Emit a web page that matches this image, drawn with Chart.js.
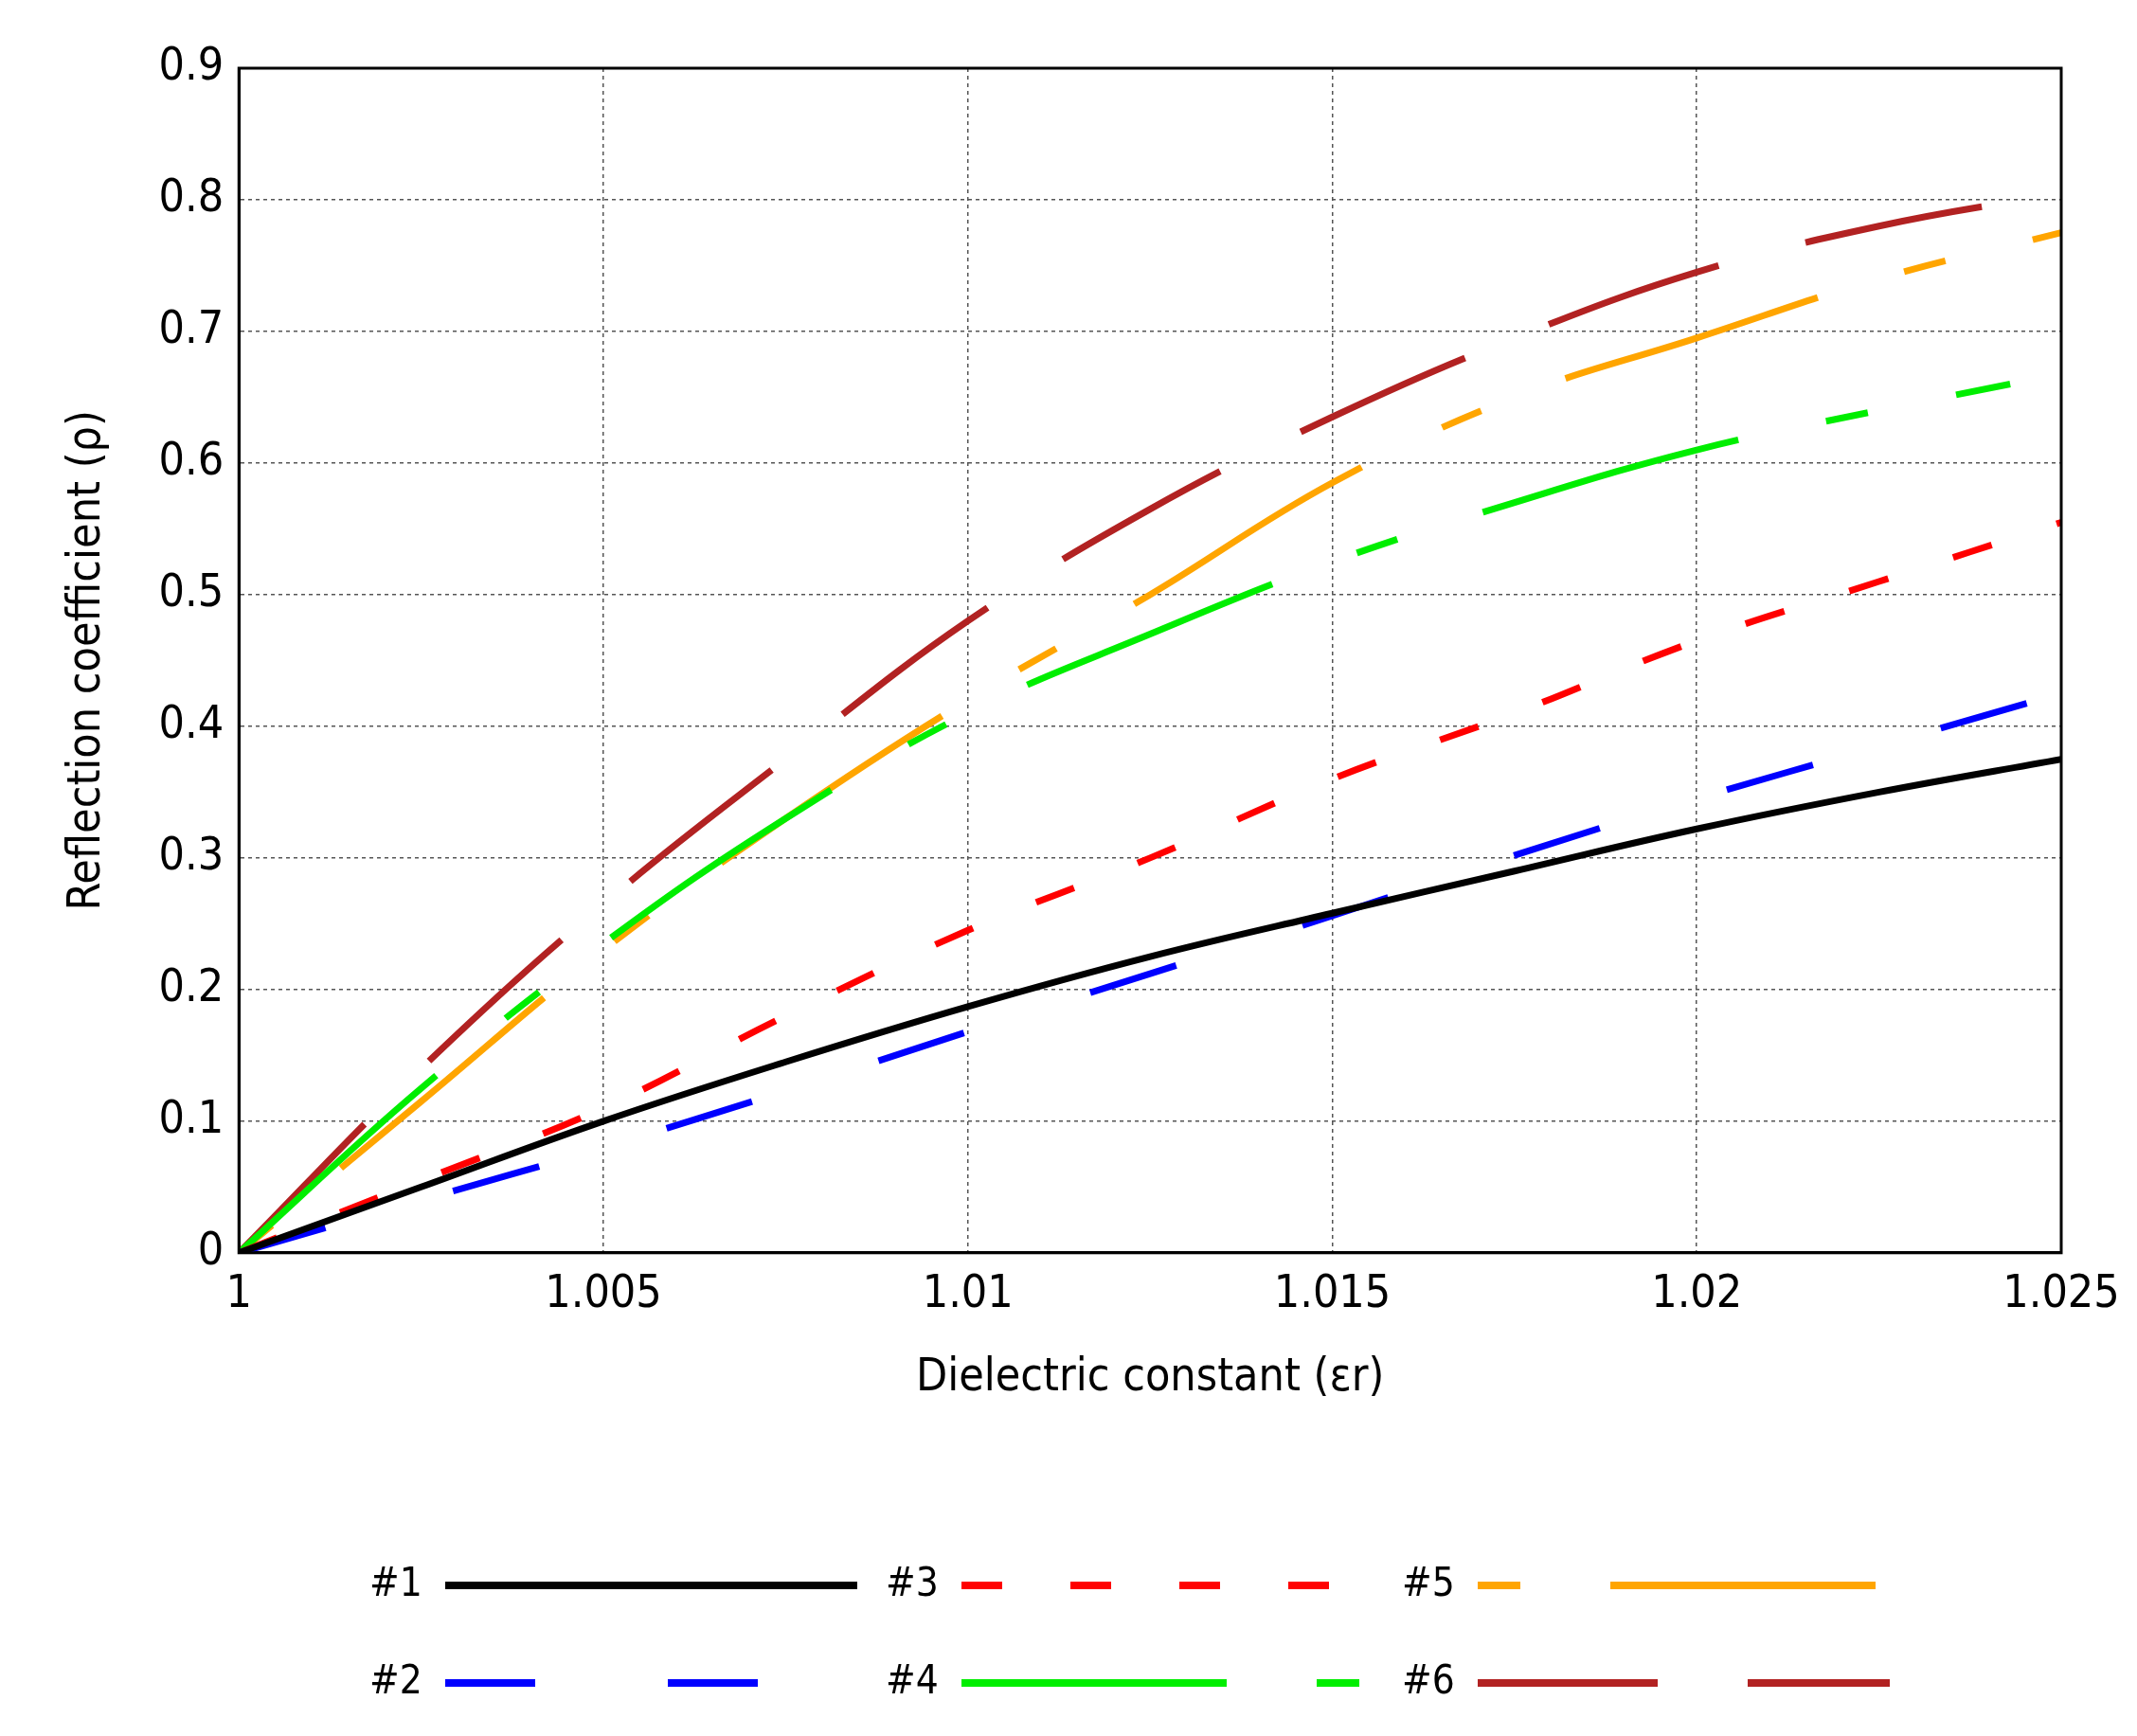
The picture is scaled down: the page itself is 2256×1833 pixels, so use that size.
<!DOCTYPE html>
<html><head><meta charset="utf-8">
<script src="https://cdn.jsdelivr.net/npm/chart.js@4"></script>
<style>html,body{margin:0;background:#fff}#w{width:2256px;height:1833px}</style>
</head><body><div id="w"><canvas id="c"></canvas></div>
<script>
const xs = [1,1.0025,1.005,1.0075,1.01,1.0125,1.015,1.0175,1.02,1.0225,1.025];
const s1 = [0,0.05,0.10,0.145,0.187,0.225,0.258,0.29,0.322,0.35,0.375];
const s2 = [0,0.04,0.08,0.123,0.168,0.212,0.256,0.302,0.345,0.385,0.425];
const s3 = [0,0.055,0.11,0.18,0.245,0.30,0.36,0.41,0.465,0.51,0.555];
const s4 = [0,0.125,0.235,0.33,0.41,0.47,0.525,0.57,0.61,0.64,0.66];
const s5 = [0,0.115,0.23,0.33,0.42,0.50,0.585,0.65,0.695,0.74,0.775];
const s6 = [0,0.14,0.265,0.375,0.48,0.565,0.635,0.695,0.745,0.78,0.805];
const xs4 = [1,1.0025,1.005,1.0075,1.01,1.0125,1.015,1.0175,1.02,1.0225,1.0243];
const names = ['#1','#2','#3','#4','#5','#6'];
const colors = ['#000000','#0000ff','#ff0000','#00ee00','#ffa500','#b22222'];
const dashes = [[],[95,140],[43,72],[280,95,45,95],[45,95,280,95],[190,95]];
const vals = [s1,s2,s3,s4,s5,s6];
const F='"Liberation Sans Narrow","DejaVu Sans Condensed","DejaVu Sans"';
const datasets = vals.map((v,i)=>({label:names[i],data:v.map((y,j)=>({x:(i===3?xs4:xs)[j],y})),
  borderColor:colors[i],borderWidth:7,borderDash:dashes[i],pointRadius:0,tension:0.4,fill:false}));
const legendPlugin={id:'lg',afterDraw(ch){const c=ch.ctx;c.save();
  const a=ch.chartArea;c.strokeStyle='#000';c.lineWidth=3;c.setLineDash([]);c.strokeRect(a.left,a.top,a.right-a.left,a.bottom-a.top);
  c.font='42px '+F;c.textBaseline='middle';c.textAlign='left';
  const cols=[390,935,1480],rows=[1674,1777];
  const order=[[0,0],[1,0],[2,1],[3,1],[4,2],[5,2]];
  order.forEach(([i,col],k)=>{const r=k%2;const x=cols[col],y=rows[r];
    c.fillStyle='#000';c.fillText(names[i],x,y);
    c.strokeStyle=colors[i];c.lineWidth=8;c.setLineDash(dashes[i]);c.beginPath();c.moveTo(x+80,y);c.lineTo(x+515,y);c.stroke();});
  c.restore();}};
new Chart(document.getElementById('c'),{type:'line',data:{datasets},
 plugins:[legendPlugin],
 options:{responsive:true,maintainAspectRatio:false,animation:false,
  layout:{padding:{left:60,right:80,top:72,bottom:345}},
  plugins:{legend:{display:false},tooltip:{enabled:false}},
  scales:{
   x:{type:'linear',min:1,max:1.025,border:{color:'#000',width:3,dash:[4,4]},
      ticks:{stepSize:0.005,color:'#000',font:{size:48,family:F},padding:16,callback:v=>String(+v.toFixed(3))},
      grid:{color:'#555',lineWidth:1.5,tickLength:0},
      title:{display:true,text:'Dielectric constant (εr)',color:'#000',font:{size:48,family:F},padding:{top:14}}},
   y:{min:0,max:0.9,border:{color:'#000',width:3,dash:[4,4]},
      ticks:{stepSize:0.1,color:'#000',font:{size:48,family:F},padding:16,callback:v=>String(+v.toFixed(1))},
      grid:{color:'#555',lineWidth:1.5,tickLength:0},
      title:{display:true,text:'Reflection coefficient (ρ)',color:'#000',font:{size:48,family:F},padding:{bottom:30}}}
  }}});
</script></body></html>
